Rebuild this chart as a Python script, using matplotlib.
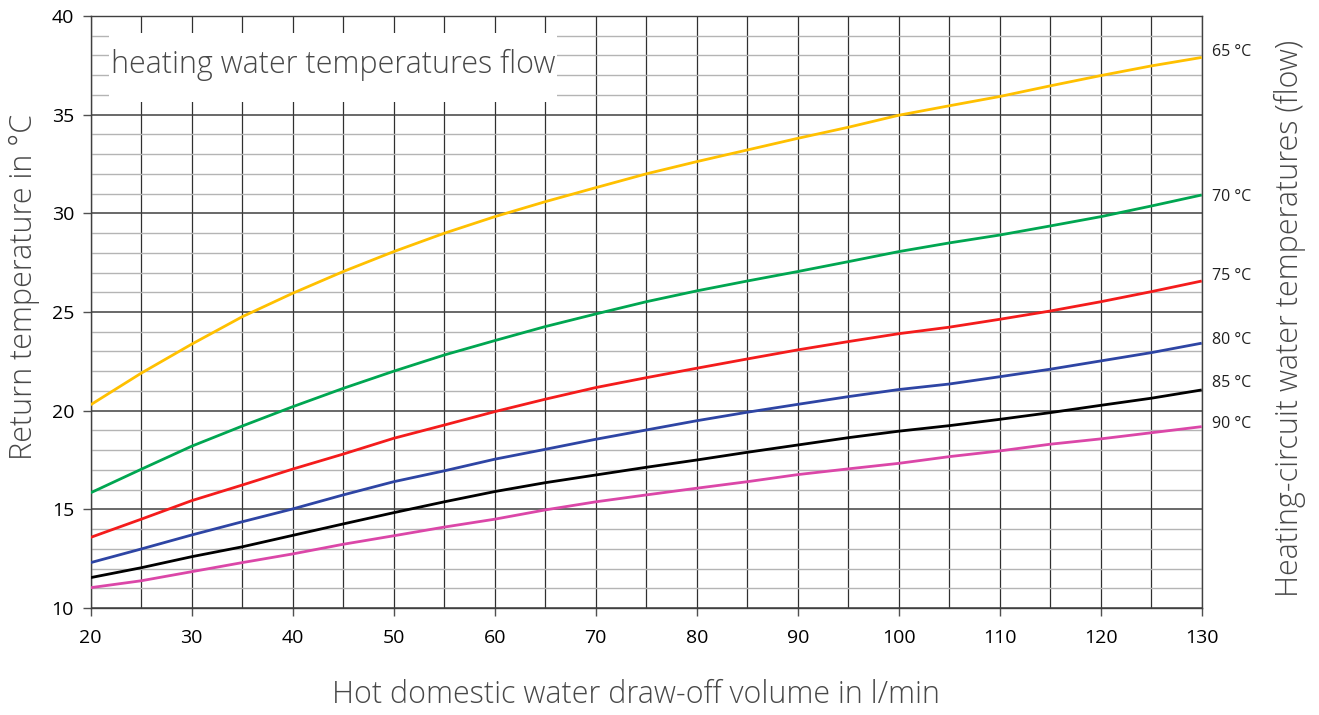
import matplotlib
matplotlib.use("Agg")
import matplotlib.pyplot as plt
from matplotlib.patches import Rectangle
from matplotlib.ticker import MultipleLocator

# ---- data ----
flow_volume = [20, 25, 30, 35, 40, 45, 50, 55, 60, 65, 70, 75, 80, 85, 90, 95,
               100, 105, 110, 115, 120, 125, 130]
ret_65 = [20.3, 21.9, 23.37, 24.76, 25.95, 27.05, 28.06, 28.99, 29.83, 30.59, 31.3, 32.0,
          32.62, 33.21, 33.8, 34.36, 34.97, 35.45, 35.92, 36.46, 36.98, 37.47, 37.9]
ret_70 = [15.84, 17.03, 18.2, 19.22, 20.2, 21.13, 22.0, 22.82, 23.55, 24.26, 24.9, 25.52,
          26.07, 26.57, 27.05, 27.55, 28.06, 28.5, 28.9, 29.36, 29.83, 30.37, 30.93]
ret_75 = [13.58, 14.5, 15.44, 16.23, 17.04, 17.8, 18.6, 19.27, 19.95, 20.58, 21.17, 21.67,
          22.15, 22.62, 23.08, 23.5, 23.9, 24.23, 24.63, 25.05, 25.52, 26.03, 26.57]
ret_80 = [12.3, 12.99, 13.7, 14.37, 15.02, 15.73, 16.4, 16.95, 17.54, 18.04, 18.55, 19.02,
          19.49, 19.92, 20.32, 20.71, 21.07, 21.35, 21.72, 22.1, 22.52, 22.94, 23.42]
ret_85 = [11.54, 12.04, 12.6, 13.1, 13.68, 14.26, 14.83, 15.38, 15.9, 16.35, 16.74, 17.13,
          17.5, 17.89, 18.26, 18.63, 18.96, 19.24, 19.56, 19.9, 20.27, 20.63, 21.05]
ret_90 = [11.03, 11.38, 11.84, 12.3, 12.74, 13.23, 13.66, 14.1, 14.5, 14.97, 15.38, 15.73,
          16.07, 16.4, 16.76, 17.05, 17.33, 17.67, 17.96, 18.3, 18.57, 18.88, 19.19]
series = [ret_65, ret_70, ret_75, ret_80, ret_85, ret_90]
series_labels = ["65 °C", "70 °C", "75 °C", "80 °C", "85 °C", "90 °C"]
series_colors = ["#FFC000", "#00A651", "#F41C1C", "#2E45A4", "#000000", "#DB47A8"]
label_y = [38.18, 30.83, 26.83, 23.58, 21.4, 19.33]

x_ticks = [20, 30, 40, 50, 60, 70, 80, 90, 100, 110, 120, 130]
y_ticks = [10, 15, 20, 25, 30, 35, 40]

title_text = "heating water temperatures flow"
xlabel = "Hot domestic water draw-off volume in l/min"
ylabel = "Return temperature in °C"
ylabel_right = "Heating-circuit water temperatures (flow)"

# ---- figure ----
plt.rcParams['font.family'] = ['Open Sans', 'DejaVu Sans']
fig = plt.figure(figsize=(13.19, 7.15), dpi=100)
ax = fig.add_axes([90.7 / 1319, 1 - 608 / 715, (1201.7 - 90.7) / 1319, (608 - 16) / 715])
ax.set_xlim(20, 130)
ax.set_ylim(10, 40)

# grid
ax.xaxis.set_major_locator(MultipleLocator(10))
ax.xaxis.set_minor_locator(MultipleLocator(5))
ax.yaxis.set_major_locator(MultipleLocator(5))
ax.yaxis.set_minor_locator(MultipleLocator(1))
ax.grid(which='minor', axis='y', color='#b4b4b4', lw=1.0, zorder=0)
ax.grid(which='major', axis='y', color='#404040', lw=1.1, zorder=0)
ax.grid(which='both', axis='x', color='#303030', lw=0.9, zorder=0)
ax.set_axisbelow(True)

ax.set_xticks(x_ticks)
ax.set_yticks(y_ticks)
ax.tick_params(axis='x', which='major', length=6, width=1, color='#505050',
               labelsize=14, pad=9)
ax.tick_params(axis='y', which='major', length=6, width=1, color='#505050',
               labelsize=14, pad=6)
ax.tick_params(which='minor', length=0)
for s in ax.spines.values():
    s.set_color('#404040')
    s.set_linewidth(1.0)

# title box covering the grid
ax.add_patch(Rectangle((21.8, 35.65), 66.2 - 21.8, 39.15 - 35.65, facecolor='white',
                       edgecolor='none', zorder=1))
ax.text(22.0, 37.5, title_text, fontsize=22, color='#484848', fontweight='light',
        ha='left', va='center', zorder=2)

# curves
for ys, c in zip(series, series_colors):
    ax.plot(flow_volume, ys, color=c, lw=2.0, zorder=3, solid_capstyle='butt')

for lab, ly in zip(series_labels, label_y):
    ax.text(131.0, ly, lab, fontsize=11.5, color='#202020', ha='left', va='center',
            clip_on=False)

fig.text(636 / 1319, 1 - 695 / 715, xlabel, fontsize=22,
         color='#484848', fontweight='light', ha='center', va='center')
fig.text(24 / 1319, 1 - 287 / 715, ylabel, rotation=90, fontsize=22,
         color='#484848', fontweight='light', ha='center', va='center')
fig.text(1290 / 1319, 1 - 318 / 715, ylabel_right, rotation=90, fontsize=22,
         color='#484848', fontweight='light', ha='center', va='center')

fig.savefig("out.png", dpi=100, facecolor='white')
